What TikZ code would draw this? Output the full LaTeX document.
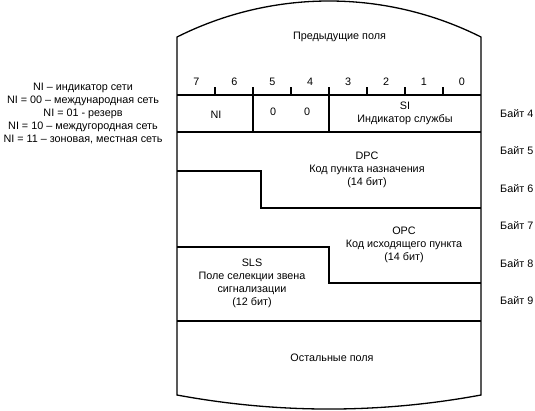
\documentclass[tikz,border=0pt]{standalone}
\usepackage{fontspec}
\setmainfont{Liberation Sans}
\begin{document}
\begin{tikzpicture}[x=1pt,y=-1pt,
  frame/.style={line width=1.3pt,black},
  lbl/.style={font=\fontsize{10.8}{13}\selectfont,inner sep=0pt,align=center},
  bytelbl/.style={font=\fontsize{10.8}{13}\selectfont,inner sep=0pt,anchor=west}]
\useasboundingbox[fill=white] (0,0) rectangle (535,410);
% outer shape
\draw[frame] (177,37) .. controls (272.7,-11) and (385.3,-11) .. (481,37)
  -- (481,395) .. controls (380,413.7) and (278,413.7) .. (177,395) -- cycle;
% bit row
\draw[frame] (177,95) -- (481,95);
\draw[frame] (177,132) -- (481,132);
\foreach \x in {215,291,367,405,443} \draw[frame] (\x,87) -- (\x,95);
\draw[frame] (253,87) -- (253,132);
\draw[frame] (329,87) -- (329,132);
% DPC / OPC
\draw[frame] (177,171) -- (261,171) -- (261,208) -- (481,208);
% OPC / SLS
\draw[frame] (177,247) -- (329,247) -- (329,283) -- (481,283);
\draw[frame] (177,321) -- (481,321);
% texts
\node[lbl] (prev) at (339.5,37) {Предыдущие поля};
\foreach \b [count=\i from 0] in {7,6,5,4,3,2,1,0}
  \node[lbl] (bit\b) at ({196.5+37.9*\i},81.5) {\b};
\node[lbl] (ni) at (216,115) {NI};
\node[lbl] (z1) at (273,112) {0};
\node[lbl] (z2) at (307,112) {0};
\node[lbl] (si) at (405,113) {SI\\Индикатор службы};
\node[lbl] (dpc) at (367,169.5) {DPC\\Код пункта назначения\\(14 бит)};
\node[lbl] (opc) at (404,245) {OPC\\Код исходящего пункта\\(14 бит)};
\node[lbl] (sls) at (252,283.5) {SLS\\Поле селекции звена\\сигнализации\\(12 бит)};
\node[lbl] (rest) at (332,358) {Остальные поля};
\node[lbl] (legend) at (83,113) {NI – индикатор сети\\NI = 00 – международная сеть\\NI = 01 - резерв\\NI = 10 – междугородная сеть\\NI = 11 – зоновая, местная сеть};
\node[bytelbl] (b4) at (500,114) {Байт 4};
\node[bytelbl] (b5) at (500,151) {Байт 5};
\node[bytelbl] (b6) at (500,188.5) {Байт 6};
\node[bytelbl] (b7) at (500,226) {Байт 7};
\node[bytelbl] (b8) at (500,263.5) {Байт 8};
\node[bytelbl] (b9) at (500,301) {Байт 9};
\end{tikzpicture}
\end{document}
